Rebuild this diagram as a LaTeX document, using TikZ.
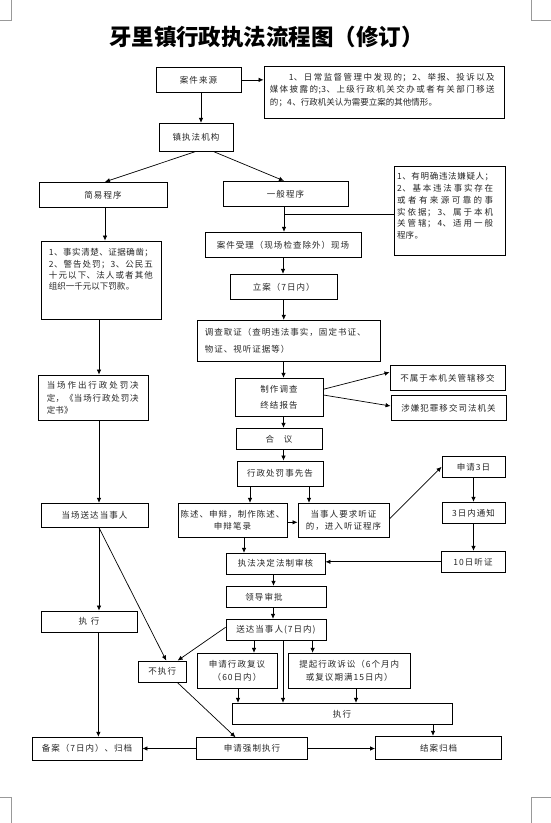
\documentclass[tikz,border=0pt]{standalone}
\usepackage{fontspec}
\setmainfont{Noto Sans CJK SC}
\newfontfamily\lbf[LetterSpace=12]{Noto Sans CJK SC}
\newfontfamily\ntf[LetterSpace=5]{Noto Sans CJK SC}
\usetikzlibrary{arrows.meta}
\XeTeXlinebreaklocale "zh"
\XeTeXlinebreakskip=0pt plus 2pt
\begin{document}
\begin{tikzpicture}[x=1pt,y=-1pt,
  box/.style={draw, line width=0.9pt, inner sep=1pt, align=center, text=black!85,
    font=\lbf\fontsize{8.5}{12.5}\selectfont},
  ntxt/.style={anchor=north west, inner sep=0pt, align=justify, text=black!85,
    font=\ntf\fontsize{8.5}{12.5}\selectfont},
  arr/.style={line width=0.7pt, -{Latex[length=5pt,width=4.5pt]}},
  ln/.style={line width=0.7pt},
  corner/.style={line width=0.6pt, draw=black!40}
]
\path[fill=white] (0,0) rectangle (551,823);
\useasboundingbox (0,0) rectangle (551,823);

% page corner marks
\draw[corner] (11.7,0) -- (11.7,20) -- (0,20);
\draw[corner] (531,0) -- (531,20) -- (551,20);
\draw[corner] (11.7,823) -- (11.7,797) -- (0,797);
\draw[corner] (531,823) -- (531,797) -- (551,797);

% title
\node[font=\bfseries\fontsize{22.5}{26}\selectfont, text=black] (title) at (266.5,36.7) {牙里镇行政执法流程图（修订）};

% boxes
\node[box, minimum width=85pt, minimum height=24.3pt] (src) at (198.5,79.85) {案件来源};
\node[box, minimum width=240pt, minimum height=51.3pt] (sn) at (384,92.35) {};
\node[ntxt, text width=225pt] (snt) at ([xshift=6pt,yshift=-6.7pt]sn.north west)
  {\hspace*{19pt}1、日常监督管理中发现的；2、举报、投诉以及\linebreak 媒体披露的;3、上级行政机关交办或者有关部门移送\linebreak 的；4、行政机关认为需要立案的其他情形。};

\node[box, minimum width=74pt, minimum height=28pt] (org) at (196,137.3) {镇执法机构};
\node[box, minimum width=128pt, minimum height=25pt] (simple) at (103,194.8) {简易程序};
\node[box, minimum width=125pt, minimum height=25pt] (general) at (285.5,193.8) {一般程序};

\node[box, minimum width=111pt, minimum height=88.7pt] (gn) at (449.5,210.65) {};
\node[ntxt, text width=96pt, font=\ntf\fontsize{8.5}{11.7}\selectfont] (gnt) at ([xshift=3.4pt,yshift=-6.7pt]gn.north west)
  {1、有明确违法嫌疑人；\linebreak 2、基本违法事实存在\linebreak 或者有来源可靠的事\linebreak 实依据；3、属于本机\linebreak 关管辖；4、适用一般\linebreak 程序。};

\node[box, minimum width=156pt, minimum height=25pt] (accept) at (283,244.8) {案件受理（现场检查除外）现场};

\node[box, minimum width=120pt, minimum height=78.3pt] (fact) at (101,280.15) {};
\node[ntxt, text width=104pt, font=\ntf\fontsize{8.5}{11.3}\selectfont] (factt) at ([xshift=8.2pt,yshift=-8pt]fact.north west)
  {1、事实清楚、证据确凿；\linebreak 2、警告处罚；3、公民五\linebreak 十元以下、法人或者其他\linebreak 组织一千元以下罚款。};

\node[box, minimum width=107.5pt, minimum height=25pt] (filing) at (283.75,286.8) {立案（7日内）};

\node[box, minimum width=183pt, minimum height=40.7pt] (invest) at (288.5,340.65) {};
\node[anchor=north west, inner sep=0pt, align=left, text=black!85,
  font=\lbf\fontsize{8.5}{16.6}\selectfont] (investt) at ([xshift=8pt,yshift=-8.4pt]invest.north west)
  {调查取证（查明违法事实，固定书证、\\物证、视听证据等）};

\node[box, minimum width=88pt, minimum height=37.7pt, font=\lbf\fontsize{8.5}{16.5}\selectfont] (report) at (279,397.15) {制作调查\\终结报告};
\node[box, minimum width=115pt, minimum height=24.6pt] (nj) at (447.5,378) {不属于本机关管辖移交};
\node[box, minimum width=115pt, minimum height=25pt] (cr) at (448.5,407.8) {涉嫌犯罪移交司法机关};

\node[box, minimum width=110pt, minimum height=45.3pt] (onsite) at (93,397.65) {};
\node[ntxt, text width=92pt] (onsitet) at ([xshift=9pt,yshift=-6.7pt]onsite.north west)
  {当场作出行政处罚决\linebreak 定，《当场行政处罚决\linebreak 定书》};

\node[box, minimum width=86pt, minimum height=21pt] (heyi) at (279,438.8) {合\hspace{10pt}议};
\node[box, minimum width=86pt, minimum height=25pt] (notice) at (280,473.5) {行政处罚事先告};
\node[box, minimum width=109pt, minimum height=34pt] (chen) at (232.5,520.3) {陈述、申辩，制作陈述、\\申辩笔录};
\node[box, minimum width=91pt, minimum height=34pt] (dang) at (343.5,520.3) {当事人要求听证\\的，进入听证程序};
\node[box, minimum width=63pt, minimum height=21pt] (sq3) at (473.5,466.8) {申请3日};
\node[box, minimum width=63pt, minimum height=21pt] (tz3) at (473.5,512.8) {3日内通知};
\node[box, minimum width=107pt, minimum height=24pt] (ds) at (94.5,515.3) {当场送达当事人};
\node[box, minimum width=99pt, minimum height=20.7pt] (fz) at (275.5,563.65) {执法决定法制审核};
\node[box, minimum width=64pt, minimum height=21pt] (t10) at (473,561.8) {10日听证};
\node[box, minimum width=100pt, minimum height=21pt] (ld) at (276,596.8) {领导审批\hspace*{24pt}};
\node[box, minimum width=100pt, minimum height=20.7pt] (sd) at (276,629.65) {送达当事人(7日内)};
\node[box, minimum width=96pt, minimum height=21.3pt] (zx1) at (89,621.65) {执\hspace{4pt}行};
\node[box, minimum width=48.5pt, minimum height=21.3pt] (bz) at (162.25,671.65) {不执行};
\node[box, minimum width=80pt, minimum height=35pt] (fy) at (237,670.8) {申请行政复议\\（60日内）};
\node[box, minimum width=121.5pt, minimum height=35pt] (ss) at (349.25,670.8) {提起行政诉讼（6个月内\\或复议期满15日内）};
\node[box, minimum width=220pt, minimum height=21pt] (zxw) at (342,713.8) {执行};
\node[box, minimum width=110pt, minimum height=22.7pt] (ba) at (87,748.65) {备案（7日内）、归档};
\node[box, minimum width=111.2pt, minimum height=21.6pt] (qz) at (252,748.5) {申请强制执行};
\node[box, minimum width=126.1pt, minimum height=23pt] (ja) at (438.55,747.8) {结案归档};

% connectors
\draw[arr] (src.east) -- (src.east -| sn.west);
\draw[arr] ([xshift=2.5pt]src.south) -- ([xshift=2.5pt]src.south |- org.north);
\draw[arr] ([xshift=-1pt]org.south) -- ([xshift=2pt]simple.north);
\draw[arr] ([xshift=18pt]org.south) -- ([xshift=-1.5pt]general.north);
\coordinate (gx) at ([xshift=-1.5pt]general.south);
\draw[arr] (gx) -- (gx |- accept.north);
\draw[ln] ([yshift=-3.7pt]gn.west) -- ([yshift=-3.7pt]gn.west -| gx);
\draw[arr] ([xshift=2pt]simple.south) -- ([xshift=2pt]simple.south |- fact.north);
\draw[arr] (accept.south) -- (accept.south |- filing.north);
\draw[arr] (filing.south) -- (filing.south |- invest.north);
\draw[arr] ([xshift=4.5pt]report.north |- invest.south) -- ([xshift=4.5pt]report.north);
\draw[arr] ([yshift=7.9pt]report.east) -- ([yshift=5.7pt]nj.west);
\draw[arr] ([yshift=2.15pt]report.east) -- ([yshift=1.8pt]cr.west);
\draw[arr] ([xshift=-2pt]fact.south) -- ([xshift=-2pt]fact.south |- onsite.north);
\draw[arr] ([xshift=4.5pt]report.south) -- ([xshift=4.5pt]report.south |- heyi.north);
\draw[arr] ([xshift=4.5pt]heyi.south) -- ([xshift=4.5pt]heyi.south |- notice.north);
\draw[arr] ([xshift=-30pt]notice.south) -- ([xshift=-30pt]notice.south |- chen.north);
\draw[arr] ([xshift=29pt]notice.south) -- ([xshift=29pt]notice.south |- dang.north);
\draw[arr] ([yshift=-2pt]chen.east) -- ([yshift=-2pt]chen.east -| dang.west);
\draw[arr] ([yshift=1.3pt]dang.east) -- (sq3.west);
\draw[arr] (sq3.south) -- (sq3.south |- tz3.north);
\draw[arr] (tz3.south) -- (tz3.south |- t10.north);
\draw[arr] (t10.west) -- (t10.west -| fz.east);
\draw[arr] ([xshift=11.5pt]chen.south) -- ([xshift=11.5pt]chen.south |- fz.north);
\draw[arr] ([xshift=-2pt]fz.south) -- ([xshift=-2pt]fz.south |- ld.north);
\draw[arr] ([xshift=-3pt]ld.south) -- ([xshift=-3pt]ld.south |- sd.north);
\draw[arr] ([xshift=6pt]onsite.south) -- ([xshift=6pt]onsite.south |- ds.north);
\draw[arr] ([xshift=4.5pt]ds.south) -- ([xshift=4.5pt]ds.south |- zx1.north);
\draw[arr] ([xshift=4.5pt]ds.south) -- ([xshift=4pt]bz.north);
\draw[arr] ([yshift=2.35pt]sd.west) -- ([xshift=15.4pt]bz.north);
\draw[arr] ([xshift=-22pt]sd.south) -- ([xshift=-22pt]sd.south |- fy.north);
\draw[arr] ([xshift=36.6pt]sd.south) -- ([xshift=36.6pt]sd.south |- ss.north);
\draw[arr] ([xshift=7pt]sd.south) -- ([xshift=7pt]sd.south |- zxw.north);
\draw[arr] ([xshift=1pt]fy.south) -- ([xshift=1pt]fy.south |- zxw.north);
\draw[arr] ([xshift=6.75pt]ss.south) -- ([xshift=6.75pt]ss.south |- zxw.north);
\draw[arr] ([xshift=9.4pt]zx1.south) -- ([xshift=9.4pt]zx1.south |- ba.north);
\draw[arr] (qz.west) -- (qz.west -| ba.east);
\draw[arr] (qz.east) -- (qz.east -| ja.west);
\draw[arr] ([xshift=91pt]zxw.south) -- ([xshift=91pt]zxw.south |- ja.north);
\draw[arr] ([xshift=15.4pt]bz.south) -- ([xshift=-16.5pt]qz.north);
\end{tikzpicture}
\end{document}
